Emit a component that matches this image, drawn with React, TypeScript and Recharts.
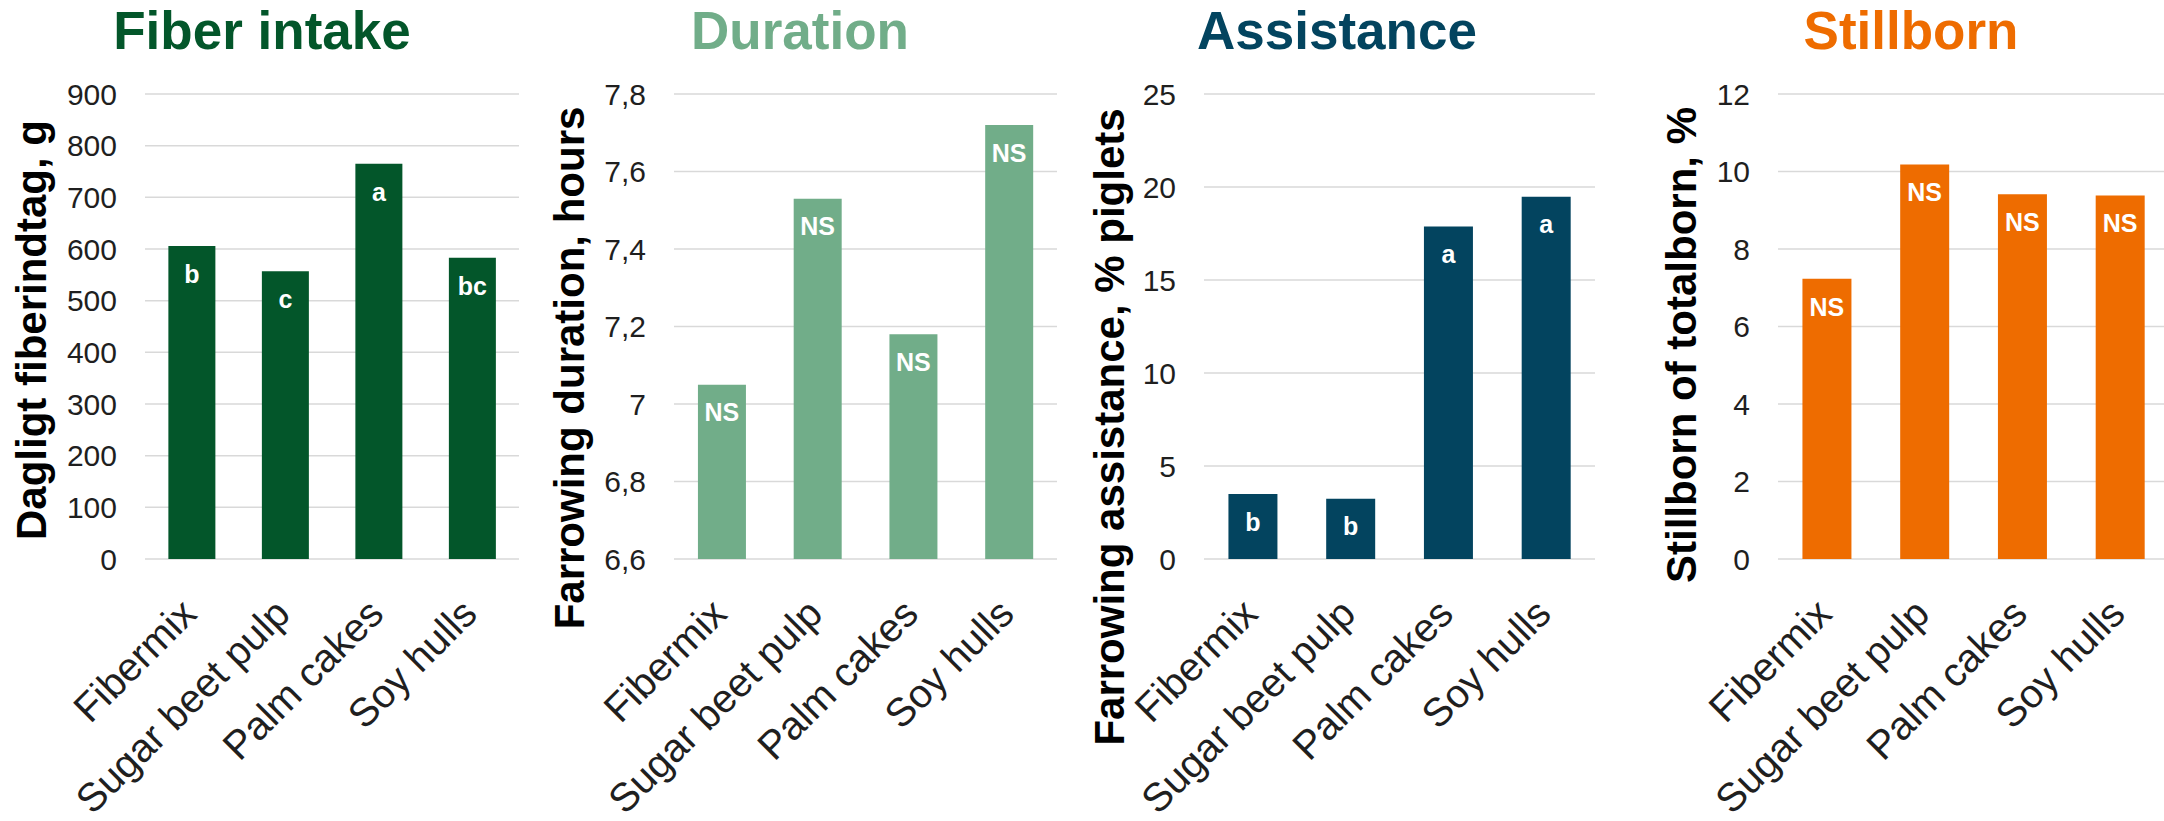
import React from "react";
import { Bar, BarChart, CartesianGrid, LabelList, XAxis, YAxis } from "recharts";

const categories = ["Fibermix", "Sugar beet pulp", "Palm cakes", "Soy hulls"];

const fiberIntake = [606, 557, 765, 583];
const fiberLetters = ["b", "c", "a", "bc"];
const fiberTicks = [0, 100, 200, 300, 400, 500, 600, 700, 800, 900];

const durationHours = [7.05, 7.53, 7.18, 7.72];
const durationLetters = ["NS", "NS", "NS", "NS"];
const durationTicks = [6.6, 6.8, 7, 7.2, 7.4, 7.6, 7.8];

const assistancePct = [3.5, 3.24, 17.87, 19.48];
const assistanceLetters = ["b", "b", "a", "a"];
const assistanceTicks = [0, 5, 10, 15, 20, 25];

const stillbornPct = [7.23, 10.18, 9.41, 9.38];
const stillbornLetters = ["NS", "NS", "NS", "NS"];
const stillbornTicks = [0, 2, 4, 6, 8, 10, 12];

const FONT = '"Liberation Sans", Arial, sans-serif';
const TEXT = "#1f1f1f";

const CategoryTick = (props: any) => {
  const { x, y, payload } = props;
  const ax = x + 7;
  const ay = y + 57;
  return (
    <text
      x={ax}
      y={ay}
      transform={`rotate(-45, ${ax}, ${ay})`}
      textAnchor="end"
      fontSize={40}
      fill={TEXT}
      fontFamily={FONT}
    >
      {payload.value}
    </text>
  );
};

type PanelProps = {
  title: string;
  color: string;
  yLabel: string;
  values: number[];
  letters: string[];
  ticks: number[];
  left: number;
  axisWidth: number;
  width: number;
  titleX: number;
  labelX: number;
  labelY: number;
};

function Panel(p: PanelProps) {
  const data = categories.map((name, i) => ({ name, value: p.values[i], letter: p.letters[i] }));
  return (
    <>
      <div
        style={{
          position: "absolute",
          left: p.left + p.titleX - 250,
          top: 4,
          width: 500,
          textAlign: "center",
          fontSize: 53,
          lineHeight: "53px",
          fontWeight: "bold",
          color: p.color,
        }}
      >
        {p.title}
      </div>
      <div style={{ position: "absolute", left: p.left, top: 0 }}>
        <BarChart
          width={p.width}
          height={821}
          data={data}
          margin={{ top: 94, right: 0, bottom: 0, left: 0 }}
          barCategoryGap="25%"
        >
          <CartesianGrid vertical={false} stroke="#d9d9d9" strokeWidth={1.5} />
          <XAxis
            dataKey="name"
            height={262}
            interval={0}
            tickLine={false}
            axisLine={false}
            tickSize={0}
            tickMargin={0}
            tick={<CategoryTick />}
          />
          <YAxis
            width={p.axisWidth}
            domain={[p.ticks[0], p.ticks[p.ticks.length - 1]]}
            ticks={p.ticks}
            interval={0}
            axisLine={false}
            tickLine={false}
            tickSize={0}
            tickMargin={28}
            tick={{ fontSize: 30, fill: TEXT, fontFamily: FONT }}
            tickFormatter={(v: number) => String(v).replace(".", ",")}
            label={{
              value: p.yLabel,
              content: () => (
                <text
                  x={p.labelX}
                  y={p.labelY}
                  transform={`rotate(-90, ${p.labelX}, ${p.labelY})`}
                  textAnchor="middle"
                  fontSize={42}
                  fontWeight="bold"
                  fill="#000"
                  fontFamily={FONT}
                >
                  {p.yLabel}
                </text>
              ),
            }}
          />
          <Bar dataKey="value" fill={p.color} isAnimationActive={false}>
            <LabelList
              dataKey="letter"
              position="insideTop"
              offset={19}
              fill="#ffffff"
              fontSize={25}
              fontWeight="bold"
              fontFamily={FONT}
            />
          </Bar>
        </BarChart>
      </div>
    </>
  );
}

export default function App() {
  return (
    <div
      style={{
        position: "absolute",
        left: 0,
        top: 0,
        width: 2164,
        height: 821,
        overflow: "hidden",
        background: "#ffffff",
        fontFamily: FONT,
      }}
    >
      <Panel
        title="Fiber intake"
        color="#03562a"
        yLabel="Dagligt fiberindtag, g"
        values={fiberIntake}
        letters={fiberLetters}
        ticks={fiberTicks}
        left={0}
        axisWidth={145}
        width={519}
        titleX={262}
        labelX={46}
        labelY={330}
      />
      <Panel
        title="Duration"
        color="#71ad89"
        yLabel="Farrowing duration, hours"
        values={durationHours}
        letters={durationLetters}
        ticks={durationTicks}
        left={541}
        axisWidth={133}
        width={516}
        titleX={259}
        labelX={43}
        labelY={368}
      />
      <Panel
        title="Assistance"
        color="#03445f"
        yLabel="Farrowing assistance, % piglets"
        values={assistancePct}
        letters={assistanceLetters}
        ticks={assistanceTicks}
        left={1082}
        axisWidth={122}
        width={513}
        titleX={255}
        labelX={42}
        labelY={427}
      />
      <Panel
        title="Stillborn"
        color="#ee6c00"
        yLabel="Stillborn of totalborn, %"
        values={stillbornPct}
        letters={stillbornLetters}
        ticks={stillbornTicks}
        left={1623}
        axisWidth={155}
        width={546}
        titleX={288}
        labelX={73}
        labelY={345}
      />
    </div>
  );
}
